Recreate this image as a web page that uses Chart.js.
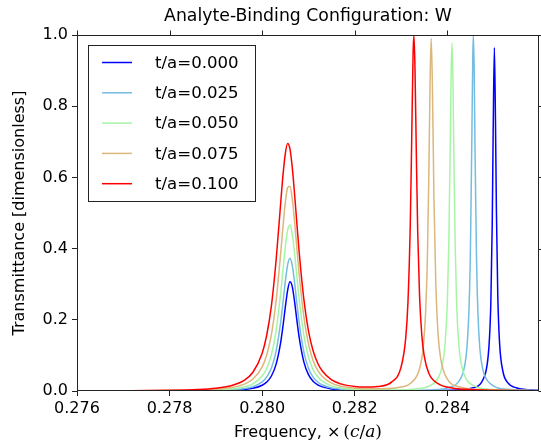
<!DOCTYPE html>
<html><head><meta charset="utf-8">
<script src="https://cdn.jsdelivr.net/npm/chart.js@4.4.0/dist/chart.umd.min.js"></script>
<style>html,body{margin:0;padding:0;background:#fff;}canvas{display:block;}</style>
</head><body>
<canvas id="c" width="541" height="443"></canvas>
<script>
// ---- data ----
const seriesLabels = ['t/a=0.000', 't/a=0.025', 't/a=0.050', 't/a=0.075', 't/a=0.100'];
const xTickValues = [0.276, 0.278, 0.280, 0.282, 0.284];
const yTickValues = [0.0, 0.2, 0.4, 0.6, 0.8, 1.0];

// shared frequency samples across the broad resonance
const freqBroad = [0.2760,0.2770,0.2780,0.2786,0.2790,0.2793,0.2796,0.2798,0.2800,0.2801,0.2802,0.2803,0.2804,0.28045,0.2805,0.28055,0.2806,0.28065,0.2807,0.28075,0.2808,0.2809,0.2810,0.2811,0.2812,0.2813,0.2815,0.2817,0.2820];

const t000Broad = [0.0001,0.0001,0.0003,0.0006,0.0011,0.0019,0.0041,0.0076,0.0162,0.0253,0.0422,0.0748,0.1368,0.1828,0.2354,0.2827,0.3066,0.2932,0.2511,0.1984,0.1497,0.0819,0.0458,0.0272,0.0172,0.0115,0.0057,0.0032,0.0018];
const t025Broad = [0.0001,0.0002,0.0004,0.0009,0.0017,0.0031,0.0065,0.0120,0.0254,0.0395,0.0647,0.1113,0.1932,0.2489,0.3074,0.3545,0.3730,0.3530,0.3050,0.2463,0.1910,0.1100,0.0640,0.0390,0.0252,0.0170,0.0086,0.0052,0.0029];
const t050Broad = [0.0001,0.0003,0.0007,0.0016,0.0030,0.0054,0.0111,0.0203,0.0420,0.0640,0.1020,0.1690,0.2750,0.3410,0.4050,0.4520,0.4660,0.4400,0.3870,0.3210,0.2570,0.1570,0.0950,0.0600,0.0400,0.0275,0.0145,0.0086,0.0049];
const t075Broad = [0.0003,0.0005,0.0013,0.0027,0.0051,0.0090,0.0186,0.0335,0.0680,0.1020,0.1590,0.2520,0.3870,0.4630,0.5290,0.5710,0.5750,0.5390,0.4760,0.4010,0.3270,0.2090,0.1320,0.0860,0.0580,0.0410,0.0220,0.0136,0.0078];
const t100Broad = [0.0004,0.0008,0.0020,0.0042,0.0078,0.0140,0.0290,0.0526,0.1060,0.1580,0.2400,0.3660,0.5280,0.6070,0.6670,0.6950,0.6800,0.6280,0.5530,0.4700,0.3890,0.2580,0.1690,0.1130,0.0780,0.0560,0.0310,0.0200,0.0126];

// sharp resonance samples, per series
const t000SharpFreq = [0.2824,0.2830,0.2836,0.2841,0.2845,0.2848,0.2849,0.28494,0.28497,0.28499,0.285016,0.28504,0.28506,0.28509,0.28513,0.2852,0.2853,0.2855,0.2858,0.2860];
const t000SharpVal  = [0.0011,0.0008,0.0010,0.0024,0.0074,0.0408,0.1268,0.2500,0.4710,0.7275,0.9650,0.7570,0.5060,0.2665,0.1310,0.0555,0.0242,0.0084,0.0032,0.0021];

const t025SharpFreq = [0.2823,0.2830,0.2836,0.2840,0.2843,0.28437,0.28442,0.28447,0.2845,0.28453,0.28455,0.284562,0.28458,0.2846,0.28463,0.28466,0.2847,0.28475,0.2848,0.2850,0.2853,0.2857,0.2860];
const t025SharpVal  = [0.0019,0.0016,0.0031,0.0086,0.0380,0.0680,0.1170,0.2380,0.4070,0.7190,0.9410,1.0000,0.9000,0.6530,0.3750,0.2220,0.1230,0.0710,0.0450,0.0140,0.0050,0.0021,0.0013];

const t050SharpFreq = [0.2823,0.2828,0.2833,0.2836,0.2838,0.28389,0.28395,0.2840,0.28403,0.28406,0.28408,0.2841,0.28412,0.28414,0.28417,0.2842,0.28425,0.2843,0.2844,0.2846,0.2849,0.2853,0.2860];
const t050SharpVal  = [0.0033,0.0031,0.0058,0.0136,0.0361,0.0703,0.1299,0.2506,0.4067,0.6657,0.8800,0.9780,0.8800,0.6657,0.4067,0.2467,0.1267,0.0760,0.0356,0.0131,0.0052,0.0023,0.0009];

const t075SharpFreq = [0.2822,0.2826,0.2830,0.2832,0.2834,0.28348,0.28353,0.28357,0.2836,0.28363,0.283652,0.28368,0.28371,0.28375,0.2838,0.28386,0.2840,0.2843,0.2847,0.2852,0.2860];
const t075SharpVal  = [0.0064,0.0061,0.0110,0.0210,0.0626,0.1240,0.2190,0.3800,0.6040,0.8910,0.9900,0.8340,0.5470,0.3050,0.1590,0.0880,0.0332,0.0103,0.0042,0.0020,0.0010];

const t100SharpFreq = [0.2822,0.2825,0.2828,0.2830,0.2831,0.28315,0.2832,0.28323,0.28326,0.283278,0.2833,0.28333,0.28336,0.2834,0.28345,0.2835,0.2836,0.2838,0.2841,0.2845,0.2850,0.2855,0.2860];
const t100SharpVal  = [0.0110,0.0128,0.0257,0.0670,0.1480,0.2510,0.4730,0.7060,0.9480,1.0000,0.9130,0.6670,0.4460,0.2670,0.1540,0.0990,0.0500,0.0205,0.0085,0.0040,0.0020,0.0012,0.0008];

// ---- styling ----
const seriesColors = ['#0000ff', '#74bde0', '#a6f5a6', '#dbb77c', '#ff0000'];
const FONT = 'DejaVu Sans';
const AXIS = '#222222';

const broadSets = [t000Broad, t025Broad, t050Broad, t075Broad, t100Broad];
const sharpFreqSets = [t000SharpFreq, t025SharpFreq, t050SharpFreq, t075SharpFreq, t100SharpFreq];
const sharpValSets = [t000SharpVal, t025SharpVal, t050SharpVal, t075SharpVal, t100SharpVal];

function toPoints(xs, ys) { return xs.map((x, i) => ({ x: x, y: ys[i] })); }

const datasets = seriesLabels.map((lab, i) => ({
  label: lab,
  data: toPoints(freqBroad, broadSets[i]).concat(toPoints(sharpFreqSets[i], sharpValSets[i])),
  borderColor: seriesColors[i],
  backgroundColor: seriesColors[i],
  borderWidth: 1.5,
  pointRadius: 0,
  fill: false,
  cubicInterpolationMode: 'monotone',
  order: seriesLabels.length - 1 - i
}));

const decor = {
  id: 'decor',
  afterDraw(chart) {
    const ctx = chart.ctx;
    const a = chart.chartArea;
    const xs = chart.scales.x, ys = chart.scales.y;
    ctx.save();
    // frame
    ctx.strokeStyle = AXIS;
    ctx.lineWidth = 1;
    const L = Math.round(a.left) + 0.5, R = Math.round(a.right) - 0.5;
    const T = Math.round(a.top) + 0.5, B = Math.round(a.bottom) - 0.5;
    ctx.strokeRect(L, T, R - L, B - T);
    // top & right ticks (outward)
    ctx.beginPath();
    xTickValues.forEach(v => {
      const px = Math.round(xs.getPixelForValue(v)) + 0.5;
      ctx.moveTo(px, T); ctx.lineTo(px, T - 5);
    });
    yTickValues.forEach(v => {
      const py = Math.round(ys.getPixelForValue(v)) + 0.5;
      ctx.moveTo(R, py); ctx.lineTo(R + 5, py);
    });
    ctx.stroke();

    // title
    ctx.fillStyle = '#000';
    ctx.font = '17.3px "' + FONT + '"';
    ctx.textAlign = 'center';
    ctx.textBaseline = 'middle';
    ctx.fillText('Analyte-Binding Configuration: W', (a.left + a.right) / 2, 17);

    // y axis title
    ctx.font = '16px "' + FONT + '"';
    ctx.save();
    ctx.translate(20, (a.top + a.bottom) / 2);
    ctx.rotate(-Math.PI / 2);
    ctx.fillText('Transmittance [dimensionless]', 0, 0);
    ctx.restore();

    // x axis title with math part
    const parts = [
      { t: 'Frequency, ', f: '16px "' + FONT + '"' },
      { t: '\u00d7', f: '16px "' + FONT + '"' },
      { t: '(', f: '17px "DejaVu Serif"' },
      { t: 'c', f: 'italic 17px "DejaVu Serif"' },
      { t: '/', f: '17px "DejaVu Serif"' },
      { t: 'a', f: 'italic 17px "DejaVu Serif"' },
      { t: ')', f: '17px "DejaVu Serif"' }
    ];
    let total = 0;
    parts.forEach(p => { ctx.font = p.f; p.w = ctx.measureText(p.t).width; total += p.w; if (p.t === '\u00d7') { p.w += 3; total += 3; } });
    let x = (a.left + a.right) / 2 - total / 2;
    ctx.textAlign = 'left';
    parts.forEach(p => { ctx.font = p.f; ctx.fillText(p.t, x, 433); x += p.w; });

    // legend
    const lx = 88.5, ly = 45.5, lw = 167, lh = 156;
    ctx.fillStyle = '#fff';
    ctx.fillRect(lx, ly, lw, lh);
    ctx.strokeStyle = AXIS;
    ctx.strokeRect(lx, ly, lw, lh);
    ctx.font = '16.6px "' + FONT + '"';
    ctx.textAlign = 'left';
    ctx.textBaseline = 'middle';
    seriesLabels.forEach((lab, i) => {
      const yy = 62.5 + i * 30.3;
      ctx.strokeStyle = seriesColors[i];
      ctx.lineWidth = 1.5;
      ctx.beginPath(); ctx.moveTo(102, yy); ctx.lineTo(132, yy); ctx.stroke();
      ctx.fillStyle = '#000';
      ctx.fillText(lab, 155, yy + 1);
    });
    ctx.restore();
  }
};

new Chart(document.getElementById('c'), {
  type: 'line',
  data: { datasets: datasets },
  options: {
    responsive: false,
    animation: false,
    devicePixelRatio: 1,
    layout: { padding: { top: 35, right: 2, left: 0, bottom: 0 } },
    plugins: { legend: { display: false }, tooltip: { enabled: false }, title: { display: false } },
    scales: {
      x: {
        type: 'linear', min: 0.276, max: 0.28598,
        afterBuildTicks: s => { s.ticks = xTickValues.map(v => ({ value: v })); },
        afterFit: s => { s.height = 52; },
        ticks: { callback: v => Number(v).toFixed(3), font: { family: FONT, size: 16 }, color: '#000', padding: 3, maxRotation: 0, autoSkip: false },
        grid: { drawOnChartArea: false, drawTicks: true, tickLength: 5, color: AXIS, lineWidth: 1 },
        border: { display: false }
      },
      y: {
        type: 'linear', min: 0, max: 1,
        afterBuildTicks: s => { s.ticks = yTickValues.map(v => ({ value: v })); },
        afterFit: s => { s.width = 77; },
        ticks: { callback: v => Number(v).toFixed(1), font: { family: FONT, size: 16 }, color: '#000', padding: 4, autoSkip: false },
        grid: { drawOnChartArea: false, drawTicks: true, tickLength: 5, color: AXIS, lineWidth: 1 },
        border: { display: false }
      }
    }
  },
  plugins: [decor]
});
</script>
</body></html>
